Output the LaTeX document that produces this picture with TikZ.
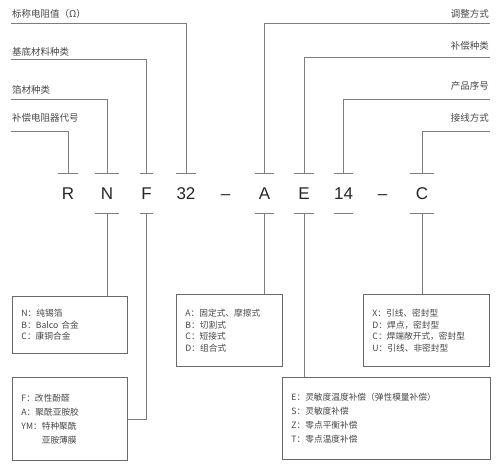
\documentclass[tikz,border=0pt]{standalone}
\usepackage{fontspec}
\setmainfont{Liberation Sans}
\newfontfamily\cjk{Noto Sans CJK SC}
\definecolor{linegray}{RGB}{125,125,125}
\definecolor{boxgray}{RGB}{105,105,105}
\definecolor{txtgray}{RGB}{70,70,70}

\begin{document}
\begin{tikzpicture}[x=1pt, y=-1pt,
		line/.style={draw=linegray, line width=0.9pt},
		code/.style={font=\fontsize{17}{17}\selectfont, text=black!85, inner sep=0pt, minimum height=39pt},
		lbl/.style={font=\cjk\fontsize{9.5}{11}\selectfont, text=txtgray, inner sep=0pt},
		box/.style={draw=boxgray, line width=0.9pt, font=\cjk\fontsize{8.7}{11.5}\selectfont, text=txtgray, align=left, anchor=north west, inner xsep=9pt, inner ysep=0pt},
		tallbox/.style={box, font=\cjk\fontsize{8.7}{14}\selectfont}]
	\useasboundingbox (0,0) rectangle (498,473);

	% model code
	\node[code, minimum width=20pt] (r) at (68,193.5) {R};
	\node[code, minimum width=24pt] (n) at (107,193.5) {N};
	\node[code, minimum width=13pt] (f) at (146.5,193.5) {F};
	\node[code, minimum width=20pt] (n32) at (186,193.5) {32};
	\node[code] (d1) at (225.5,193.5) {\vphantom{R}–};
	\node[code, minimum width=19pt] (a) at (264.5,193.5) {A};
	\node[code, minimum width=20pt] (e) at (304,193.5) {E};
	\node[code, minimum width=19pt] (n14) at (343.5,193.5) {14};
	\node[code] (d2) at (382.5,193.5) {\vphantom{R}–};
	\node[code, minimum width=24pt] (c) at (422,193.5) {C};

	\foreach \k in {r,n,f,n32,a,e,n14,c}
		\draw[line] (\k.north west) -- (\k.north east);
	\foreach \k in {n,f,a,e,n14,c}
		\draw[line] (\k.south west) -- (\k.south east);

	% labels above
	\node[lbl, anchor=west] (l1) at (12,14) {标称电阻值（Ω）};
	\node[lbl, anchor=west] (l2) at (12,52) {基底材料种类};
	\node[lbl, anchor=west] (l3) at (12,90) {箔材种类};
	\node[lbl, anchor=west] (l4) at (12,118) {补偿电阻器代号};
	\node[lbl, anchor=east] (l5) at (489,14) {调整方式};
	\node[lbl, anchor=east] (l6) at (489,46) {补偿种类};
	\node[lbl, anchor=east] (l7) at (489,86) {产品序号};
	\node[lbl, anchor=east] (l8) at (489,118) {接线方式};

	\coordinate (s1) at (11,23);
	\coordinate (s2) at (11,59);
	\coordinate (s3) at (11,99);
	\coordinate (s4) at (11,131);
	\coordinate (s5) at (490,23);
	\coordinate (s6) at (490,57);
	\coordinate (s7) at (490,99);
	\coordinate (s8) at (490,131);
	\draw[line] (s1) -| (n32.north);
	\draw[line] (s2) -| (f.north);
	\draw[line] (s3) -| (n.north);
	\draw[line] (s4) -| (r.north);
	\draw[line] (s5) -| (a.north);
	\draw[line] (s6) -| (e.north);
	\draw[line] (s7) -| (n14.north);
	\draw[line] (s8) -| (c.north);

	% boxes below
	\node[box, minimum width=115pt, minimum height=57pt, text width=97pt] (nbox) at (12,296) {N：纯锡箔\\B：Balco 合金\\C：康铜合金};
	\node[box, minimum width=106pt, minimum height=72pt, text width=88pt] (abox) at (176,294) {A：固定式、摩擦式\\B：切割式\\C：短接式\\D：组合式};
	\node[box, minimum width=126pt, minimum height=72pt, text width=108pt] (cbox) at (363,294) {X：引线、密封型\\D：焊点，密封型\\C：焊端敞开式，密封型\\U：引线、非密封型};
	\node[tallbox, minimum width=115pt, minimum height=83pt, text width=97pt] (fbox) at (12,377) {F：改性酚醛\\A：聚酰亚胺胶\\YM：特种聚酰\\\hphantom{YM：}亚胺薄膜};
	\node[tallbox, minimum width=208pt, minimum height=82pt, text width=190pt] (ebox) at (282,377) {E：灵敏度温度补偿（弹性模量补偿）\\S：灵敏度补偿\\Z：零点平衡补偿\\T：零点温度补偿};

	\draw[line] (n.south) -- (n.south |- nbox.north);
	\draw[line] (f.south) |- (fbox.east);
	\draw[line] (a.south) -- (a.south |- abox.north);
	\draw[line] (e.south) -- (e.south |- ebox.north);
	\draw[line] (c.south) -- (c.south |- cbox.north);
\end{tikzpicture}
\end{document}
